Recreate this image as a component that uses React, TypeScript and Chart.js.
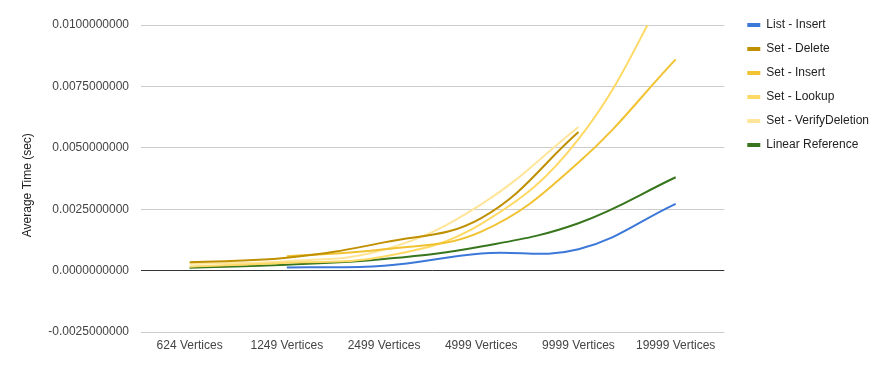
import React, { useEffect, useRef } from "react";
import { Chart, registerables } from "chart.js";

Chart.register(...registerables);

const categories = ["624 Vertices", "1249 Vertices", "2499 Vertices", "4999 Vertices", "9999 Vertices", "19999 Vertices"];
const listInsert = [null, 0.00013, 0.0002, 0.0007, 0.00087, 0.00272];
const setDelete = [0.00034, 0.00052, 0.00115, 0.00214, 0.00564, null];
const setInsert = [null, 0.00058, 0.00087, 0.00159, 0.0044, 0.0086];
const setLookup = [0.00016, 0.00032, 0.00057, 0.0019, 0.00535, 0.0121];
const setVerifyDeletion = [0.00028, 0.00038, 0.00085, 0.0027, 0.00585, null];
const linearReference = [0.00012, 0.00024, 0.00047, 0.00098, 0.00193, 0.0038];

const seriesNames = ["List - Insert", "Set - Delete", "Set - Insert", "Set - Lookup", "Set - VerifyDeletion", "Linear Reference"];
const seriesColors = ["#3c78d8", "#bf9000", "#f1c232", "#ffd966", "#ffe599", "#38761d"];
const yMin = -0.0025;
const yMax = 0.01;
const yStep = 0.0025;

const FONT = "Arial, 'Liberation Sans', sans-serif";

export default function App() {
  const ref = useRef<HTMLCanvasElement | null>(null);

  useEffect(() => {
    if (!ref.current) return;
    const seriesData = [listInsert, setDelete, setInsert, setLookup, setVerifyDeletion, linearReference];
    const chart = new Chart(ref.current, {
      type: "line",
      data: {
        labels: categories,
        datasets: seriesData.map((d, i) => ({
          label: seriesNames[i],
          data: d,
          borderColor: seriesColors[i],
          backgroundColor: seriesColors[i],
          borderWidth: 2,
          pointRadius: 0,
          pointHoverRadius: 0,
          tension: 0.4,
          fill: false,
          clip: 0,
          spanGaps: false,
        })),
      },
      options: {
        animation: false,
        responsive: false,
        maintainAspectRatio: false,
        layout: { padding: { top: 7, left: 16, right: 10, bottom: 0 } },
        font: { family: FONT, size: 12 },
        plugins: {
          tooltip: { enabled: false },
          title: {
            display: true,
            text: "",
            padding: { top: 0, bottom: 8 },
            font: { size: 10, lineHeight: 1 },
          },
          legend: {
            position: "right",
            align: "start",
            labels: {
              boxWidth: 13,
              boxHeight: 4,
              padding: 12,
              color: "#222222",
              font: { family: FONT, size: 12 },
              generateLabels: (c: any) => {
                const items = Chart.defaults.plugins.legend.labels.generateLabels(c);
                return items.map((it: any) => ({ ...it, lineWidth: 0, fillStyle: seriesColors[it.datasetIndex] }));
              },
            },
          },
        },
        scales: {
          x: {
            type: "category",
            offset: true,
            grid: { display: false, drawTicks: false },
            border: { display: false },
            ticks: {
              color: "#444444",
              padding: 6,
              maxRotation: 0,
              autoSkip: false,
              font: { family: FONT, size: 12 },
            },
            afterFit: (s: any) => {
              s.height = 39;
            },
          },
          y: {
            type: "linear",
            min: yMin,
            max: yMax,
            border: { display: false },
            grid: {
              drawTicks: false,
              color: (ctx: any) => (ctx.tick && Math.abs(ctx.tick.value) < 1e-12 ? "#333333" : "#cccccc"),
            },
            ticks: {
              stepSize: yStep,
              padding: 12,
              color: "#444444",
              font: { family: FONT, size: 12 },
              callback: (v: any) => {
                const n = Math.abs(Number(v)) < 1e-12 ? 0 : Number(v);
                return n.toFixed(10);
              },
            },
            title: {
              display: true,
              text: "Average Time (sec)    ",
              color: "#222222",
              font: { family: FONT, size: 12 },
            },
            afterFit: (s: any) => {
              s.width = 125;
            },
          },
          yRight: {
            type: "linear",
            position: "right",
            display: true,
            grid: { display: false, drawTicks: false },
            border: { display: false },
            ticks: { display: false },
            afterFit: (s: any) => {
              s.width = 11;
            },
          },
        },
      } as any,
    });
    return () => chart.destroy();
  }, []);

  return (
    <div style={{ position: "absolute", left: 0, top: 0, width: 889, height: 371, background: "#ffffff" }}>
      <canvas ref={ref} width={889} height={371} style={{ display: "block" }} />
    </div>
  );
}
